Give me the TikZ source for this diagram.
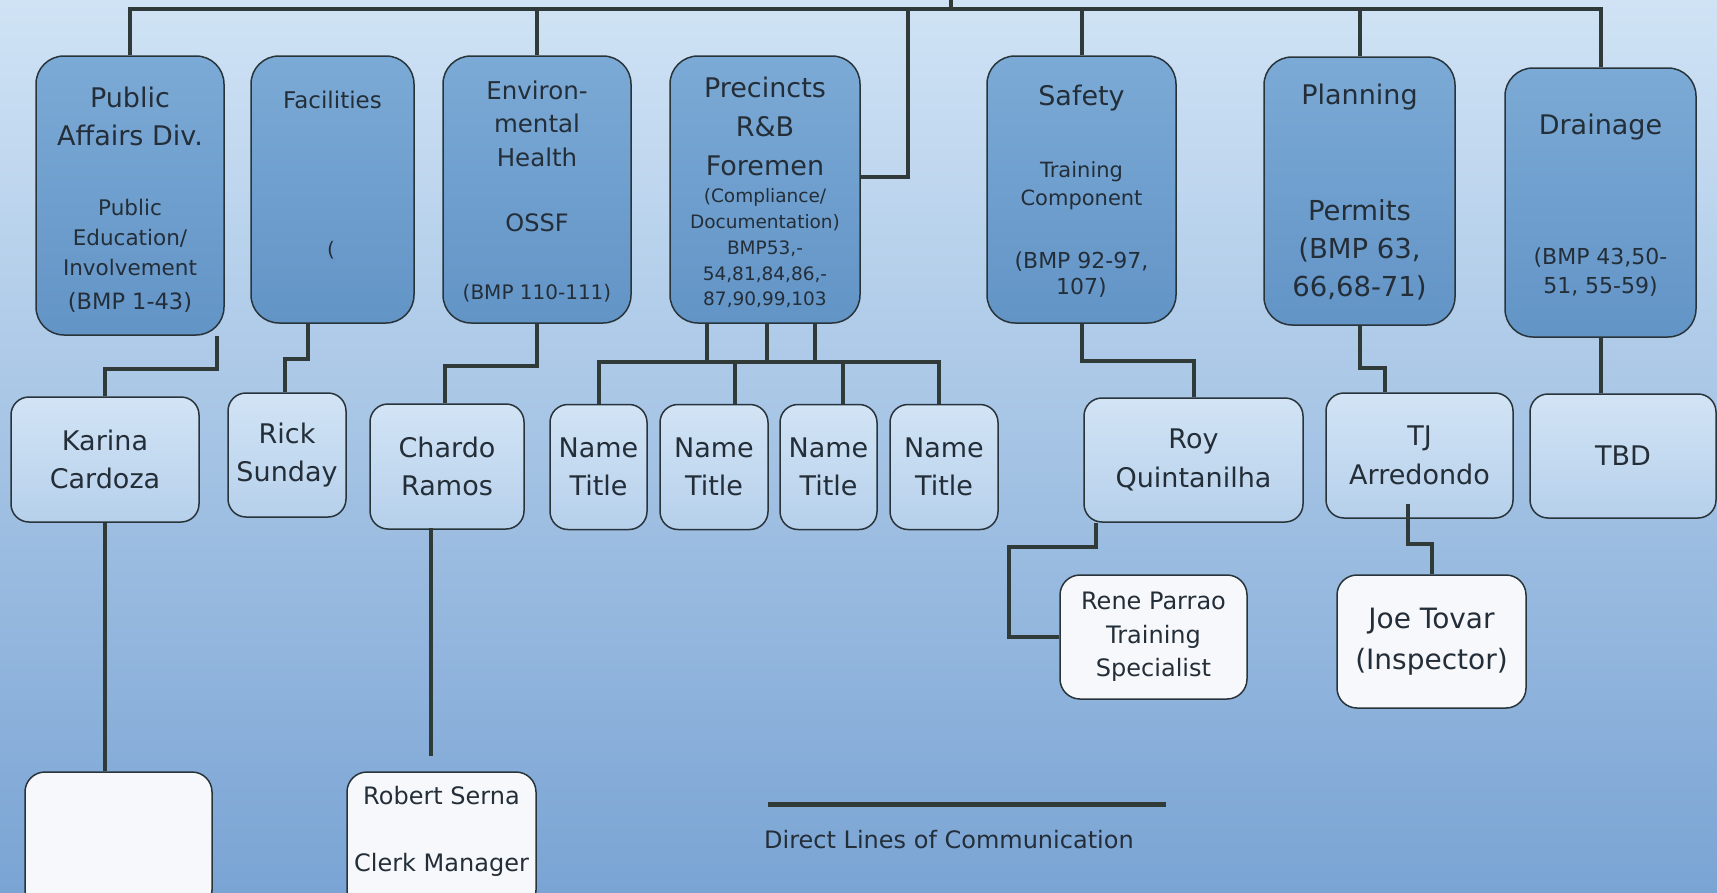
\documentclass[tikz,border=0pt]{standalone}
\usepackage{fontspec}
\setmainfont{DejaVu Sans}
\usetikzlibrary{positioning, calc}
\definecolor{bgtop}{RGB}{208,227,245}
\definecolor{bgmid}{RGB}{150,187,224}
\definecolor{bgbot}{RGB}{122,164,212}
\definecolor{divtop}{RGB}{124,170,214}
\definecolor{divbot}{RGB}{98,148,198}
\definecolor{stafftop}{RGB}{210,228,245}
\definecolor{staffbot}{RGB}{182,208,235}
\definecolor{clerk}{RGB}{246,248,251}
\definecolor{edge}{RGB}{40,52,58}
\definecolor{wire}{RGB}{48,58,56}
\definecolor{ink}{RGB}{36,46,56}
\newcommand{\chartfont}[2]{\fontsize{#1}{#2}\selectfont}

\begin{document}
\begin{tikzpicture}[x=1pt, y=-1pt,
    div/.style={draw=edge, line width=1.5pt, rounded corners=28pt, top color=divtop, bottom color=divbot, inner sep=0pt},
    staff/.style={draw=edge, line width=1.5pt, rounded corners=18pt, top color=stafftop, bottom color=staffbot, align=center, text=ink, font=\chartfont{27}{38.5}, inner sep=0pt},
    clerkbox/.style={draw=edge, line width=1.5pt, rounded corners=20pt, fill=clerk, align=center, text=ink, font=\chartfont{24}{33.5}, inner sep=0pt},
    txt/.style={align=center, text=ink, inner sep=0pt},
    link/.style={draw=wire, line width=4pt}]

    % background
    \useasboundingbox (0,0) rectangle (1717,892);
    \clip (0,0) rectangle (1717,892);
    \shade[top color=bgtop, middle color=bgmid, bottom color=bgbot] (0,0) rectangle (1717,892);

    % DIVISIONS
    \node[div, minimum width=188pt, minimum height=279pt] (pa) at (130,195.5) {};
    \node[txt, font=\chartfont{27}{38}] (pa-ttl) at (130,116) {Public\\Affairs Div.};
    \node[txt, font=\chartfont{21.5}{30}] (pa-sub) at (130,237) {Public\\Education/\\Involvement};
    \node[txt, font=\chartfont{22.5}{27}] (pa-bmp) at (130,302) {(BMP 1-43)};

    \node[div, minimum width=163pt, minimum height=267pt] (fac) at (332.5,189.5) {};
    \node[txt, font=\chartfont{23}{30}] (fac-ttl) at (332.5,100) {Facilities};
    \node[txt, font=\chartfont{20}{26}] (fac-sub) at (331,250) {(};

    \node[div, minimum width=188pt, minimum height=267pt] (env) at (537,189.5) {};
    \node[txt, font=\chartfont{24.5}{33.5}] (env-ttl) at (537,123.5) {Environ-\\mental\\Health};
    \node[txt, font=\chartfont{24}{30}] (env-ossf) at (537,223) {OSSF};
    \node[txt, font=\chartfont{20}{26}] (env-bmp) at (537,293) {(BMP 110-111)};

    \node[div, minimum width=190pt, minimum height=267pt] (prc) at (765,189.5) {};
    \node[txt, font=\chartfont{27}{39}] (prc-ttl) at (765,126) {Precincts\\R\&B\\Foremen};
    \node[txt, font=\chartfont{18.5}{25.75}] (prc-sub) at (765,248.5) {(Compliance/\\Documentation)\\BMP53,-\\54,81,84,86,-\\87,90,99,103};

    \node[div, minimum width=189pt, minimum height=267pt] (saf) at (1081.5,189.5) {};
    \node[txt, font=\chartfont{27}{38}] (saf-ttl) at (1081.5,98) {Safety};
    \node[txt, font=\chartfont{21}{28}] (saf-sub) at (1081.5,186) {Training\\Component};
    \node[txt, font=\chartfont{22}{26}] (saf-bmp) at (1081.5,275) {(BMP 92-97,\\107)};

    \node[div, minimum width=191pt, minimum height=268pt] (pln) at (1359.5,191) {};
    \node[txt, font=\chartfont{27}{38}] (pln-ttl) at (1359.5,97) {Planning};
    \node[txt, font=\chartfont{27.5}{38}] (pln-sub) at (1359.5,250) {Permits\\(BMP 63,\\66,68-71)};

    \node[div, minimum width=191pt, minimum height=269pt] (drn) at (1600.5,202.5) {};
    \node[txt, font=\chartfont{27}{38}] (drn-ttl) at (1600.5,127) {Drainage};
    \node[txt, font=\chartfont{22}{29}] (drn-bmp) at (1600.5,272.5) {(BMP 43,50-\\51, 55-59)};

    % STAFF
    \node[staff, minimum width=188pt, minimum height=125pt] (kar) at (105,459.5) {Karina\\Cardoza};
    \node[staff, minimum width=118pt, minimum height=124pt] (rick) at (287,455) {Rick\\Sunday};
    \node[staff, minimum width=154pt, minimum height=125pt] (chd) at (447,466.5) {Chardo\\Ramos};
    \node[staff, minimum width=97pt, minimum height=125pt] (n1) at (598.5,467) {Name\\Title};
    \node[staff, minimum width=108pt, minimum height=125pt] (n2) at (714,467) {Name\\Title};
    \node[staff, minimum width=97pt, minimum height=125pt] (n3) at (828.5,467) {Name\\Title};
    \node[staff, minimum width=108pt, minimum height=125pt] (n4) at (944,467) {Name\\Title};
    \node[staff, minimum width=219pt, minimum height=124pt] (roy) at (1193.5,460) {Roy\\Quintanilha};
    \node[staff, minimum width=187pt, minimum height=125pt] (tj) at (1419.5,455.5) {TJ\\Arredondo};
    \node[staff, minimum width=186pt, minimum height=124pt] (tbd) at (1623,456) {TBD};

    % CLERKS
    \node[clerkbox, minimum width=187pt, minimum height=138pt] (blank) at (118.5,841) {};
    \node[clerkbox, minimum width=189pt, minimum height=138pt] (rob) at (441.5,841) {};
    \node[txt, font=\chartfont{24}{33}] (rob-txt) at (441.5,831.5) {Robert Serna\\[34pt]Clerk Manager};
    \node[clerkbox, minimum width=187pt, minimum height=124pt] (ren) at (1153.5,637) {Rene Parrao\\Training\\Specialist};
    \node[clerkbox, font=\chartfont{28}{41}, minimum width=189pt, minimum height=133pt] (joe) at (1431.5,641.5) {Joe Tovar\\(Inspector)};

    % top bus
    \coordinate (top) at (951,0);
    \coordinate (bus) at (951,9);
    \draw[link] (top) -- (bus);
    \draw[link] (pa.north) -- (pa.north |- bus) -- (drn.north |- bus) -- (drn.north);
    \foreach \d in {env, saf, pln} {
        \draw[link] (\d.north |- bus) -- (\d.north);
    }
    \draw[link] ($(bus)+(-43,0)$) |- ($(prc.east)+(0,-12.5)$);

    % division to staff
    \draw[link] ($(pa.south)+(87,0)$) -- ++(0,33) -| (kar.north);
    \draw[link] ($(fac.south)+(-24.5,0)$) -- ++(0,35) -| ($(rick.north)+(-2,0)$);
    \draw[link] (env.south) -- ++(0,42) -| ($(chd.north)+(-2,0)$);
    \coordinate (nbus) at (765,362);
    \foreach \dx in {-58,2,50} {
        \draw[link] ($(prc.south)+(\dx,0)$) -- ($(prc.south |- nbus)+(\dx,0)$);
    }
    \draw[link] (n1.north) |- ($(n4.north |- nbus)+(-5,0)$) -- ($(n4.north)+(-5,0)$);
    \draw[link] ($(n2.north |- nbus)+(21,0)$) -- ($(n2.north)+(21,0)$);
    \draw[link] ($(n3.north |- nbus)+(14,0)$) -- ($(n3.north)+(14,0)$);
    \draw[link] (saf.south) -- ++(0,37) -| (roy.north);
    \draw[link] (pln.south) -- ++(0,42) -| ($(tj.north)+(-34.5,0)$);
    \draw[link] (drn.south) -- (drn.south |- tbd.north);

    % staff to clerks
    \draw[link] (kar.south) -- (kar.south |- blank.north);
    \draw[link, shorten >=15pt] ($(chd.south)+(-16,-2)$) -- ($(rob.north)+(-10.5,0)$);
    \draw[link] ($(roy.south)+(-97.5,0)$) -- ++(0,24) -- ++(-87,0) |- (ren.west);
    \draw[link] ($(tj.south)+(-11.5,-15)$) -- ++(0,40) -| (joe.north);

    % legend
    \coordinate (leg-l) at (768,804);
    \coordinate (leg-r) at (1166,804);
    \draw[wire, line width=5pt] (leg-l) -- (leg-r);
    \node[txt, anchor=west, font=\chartfont{24}{30}] (legend) at (764,840) {Direct Lines of Communication};
\end{tikzpicture}
\end{document}
